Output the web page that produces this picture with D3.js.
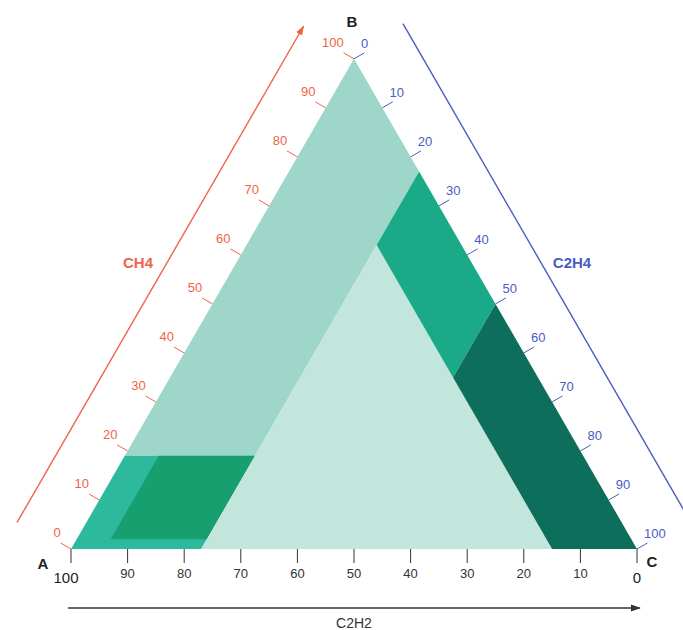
<!DOCTYPE html>
<html>
<head>
<meta charset="utf-8">
<script src="https://cdnjs.cloudflare.com/ajax/libs/d3/7.8.5/d3.min.js"></script>
<style>
  body { margin: 0; background: #fff; }
  text { font-family: "Liberation Sans", Arial, sans-serif; }
</style>
</head>
<body>
<div id="chart"></div>
<script>
// ternary values: CH4 (m), C2H4 (e), C2H2 = 100 - m - e
var ticks = [0, 10, 20, 30, 40, 50, 60, 70, 80, 90, 100];

// zone corners as [CH4, C2H4] pairs
var zoneUpper  = [[19, 0], [100, 0], [77, 23], [19, 23]];
var zoneBand   = [[0, 0], [19, 0], [19, 23], [0, 23]];
var zoneInner  = [[2, 6], [19, 6], [19, 23], [2, 23]];
var zoneCentre = [[0, 23], [62, 23], [0, 85]];
var zoneMid    = [[62, 23], [77, 23], [50, 50], [35, 50]];
var zoneDark   = [[35, 50], [50, 50], [0, 100], [0, 85]];

var zones = [zoneUpper, zoneBand, zoneInner, zoneCentre, zoneMid, zoneDark];
var zoneColors = ["#9ed6c9", "#2dba9c", "#179f70", "#c3e6dc", "#1aaa88", "#0e6e5c"];

var width = 683, height = 630;
var side = 566;

var svg = d3.select("#chart")
  .append("svg")
    .attr("width", width)
    .attr("height", height);

// scales: x from (C2H4 + CH4/2), y from CH4
var x = d3.scaleLinear().domain([0, 100]).range([71, 71 + side]);
var y = d3.scaleLinear().domain([0, 100]).range([549, 549 - side * Math.sqrt(3) / 2]);

function pt(m, e) { return [x(e + m / 2), y(m)]; }

var s3 = Math.sqrt(3) / 2;
var leftU = [0.5, -s3], leftN = [-s3, -0.5];
var rightU = [0.5, s3], rightN = [s3, -0.5];
function off(p, n, dn, u, du) {
  return [p[0] + n[0] * dn + u[0] * du, p[1] + n[1] * dn + u[1] * du];
}

// markers
var defs = svg.append("defs");
[["arrRed", "#ef6448"], ["arrDark", "#333"]].forEach(function(d) {
  defs.append("marker")
    .attr("id", d[0])
    .attr("viewBox", "0 0 10 10")
    .attr("refX", 9).attr("refY", 5)
    .attr("markerWidth", 7).attr("markerHeight", 7)
    .attr("orient", "auto")
    .append("path")
      .attr("d", "M0,1.5 L10,5 L0,8.5 Z")
      .attr("fill", d[1]);
});

// zones
svg.selectAll("path.zone")
  .data(zones)
  .enter()
  .append("path")
    .attr("class", "zone")
    .attr("d", function(d) { return "M" + d.map(function(p) { return pt(p[0], p[1]).join(","); }).join("L") + "Z"; })
    .attr("fill", function(d, i) { return zoneColors[i]; });

var A = pt(0, 0), B = pt(100, 0), C = pt(0, 100);

// left axis (CH4)
var red = "#ef6448";
var l0 = off(A, leftN, 60, leftU, -4), l1 = off(A, leftN, 60, leftU, side + 3);
svg.append("line")
  .attr("x1", l0[0]).attr("y1", l0[1]).attr("x2", l1[0]).attr("y2", l1[1])
  .attr("stroke", red).attr("stroke-width", 1.4)
  .attr("marker-end", "url(#arrRed)");

ticks.forEach(function(t) {
  var p = pt(t, 0);
  var q = off(p, leftN, 12, leftU, 0);
  svg.append("line")
    .attr("x1", p[0]).attr("y1", p[1]).attr("x2", q[0]).attr("y2", q[1])
    .attr("stroke", red).attr("stroke-width", 1);
  var lp = off(p, leftN, 17, leftU, 9);
  svg.append("text")
    .attr("x", lp[0]).attr("y", lp[1]).attr("dy", "0.35em")
    .attr("text-anchor", "end")
    .attr("font-size", 13)
    .attr("fill", red)
    .text(t);
});

svg.append("text")
  .attr("x", 138).attr("y", 268)
  .attr("text-anchor", "middle")
  .attr("font-size", 15).attr("font-weight", "bold")
  .attr("fill", red)
  .text("CH4");

// right axis (C2H4)
var blue = "#4a5cc2";
var r0 = off(B, rightN, 60, rightU, -6), r1 = off(B, rightN, 60, rightU, side + 20);
svg.append("line")
  .attr("x1", r0[0]).attr("y1", r0[1]).attr("x2", r1[0]).attr("y2", r1[1])
  .attr("stroke", blue).attr("stroke-width", 1.4);

ticks.forEach(function(t) {
  var p = pt(100 - t, t);
  var q = off(p, rightN, 12, rightU, 0);
  svg.append("line")
    .attr("x1", p[0]).attr("y1", p[1]).attr("x2", q[0]).attr("y2", q[1])
    .attr("stroke", blue).attr("stroke-width", 1);
  var lp = off(p, rightN, 14, rightU, -10);
  svg.append("text")
    .attr("x", lp[0]).attr("y", lp[1]).attr("dy", "0.35em")
    .attr("text-anchor", "start")
    .attr("font-size", 13)
    .attr("fill", blue)
    .text(t);
});

svg.append("text")
  .attr("x", 572).attr("y", 268)
  .attr("text-anchor", "middle")
  .attr("font-size", 15).attr("font-weight", "bold")
  .attr("fill", blue)
  .text("C2H4");

// bottom axis (C2H2)
ticks.forEach(function(t) {
  var p = pt(0, 100 - t);
  svg.append("line")
    .attr("x1", p[0]).attr("y1", p[1]).attr("x2", p[0]).attr("y2", p[1] + 14)
    .attr("stroke", "#333").attr("stroke-width", 1);
  var end = (t === 100 || t === 0);
  svg.append("text")
    .attr("x", t === 100 ? p[0] - 5 : p[0])
    .attr("y", end ? p[1] + 34 : p[1] + 29)
    .attr("text-anchor", "middle")
    .attr("font-size", end ? 15 : 13)
    .attr("fill", end ? "#222" : "#333")
    .text(t);
});

svg.append("line")
  .attr("x1", x(-0.5)).attr("y1", 608).attr("x2", x(100.5)).attr("y2", 608)
  .attr("stroke", "#333").attr("stroke-width", 1.4)
  .attr("marker-end", "url(#arrDark)");

svg.append("text")
  .attr("x", (A[0] + C[0]) / 2).attr("y", 628)
  .attr("text-anchor", "middle")
  .attr("font-size", 14)
  .attr("fill", "#333")
  .text("C2H2");

// vertex letters
var verts = [["A", A[0] - 28, A[1] + 15], ["B", B[0] - 2, B[1] - 37], ["C", C[0] + 15, C[1] + 13]];
svg.selectAll("text.vertex")
  .data(verts)
  .enter()
  .append("text")
    .attr("class", "vertex")
    .attr("x", function(d) { return d[1]; })
    .attr("y", function(d) { return d[2]; })
    .attr("dy", "0.35em")
    .attr("text-anchor", "middle")
    .attr("font-size", 15).attr("font-weight", "bold")
    .attr("fill", "#222")
    .text(function(d) { return d[0]; });
</script>
</body>
</html>
